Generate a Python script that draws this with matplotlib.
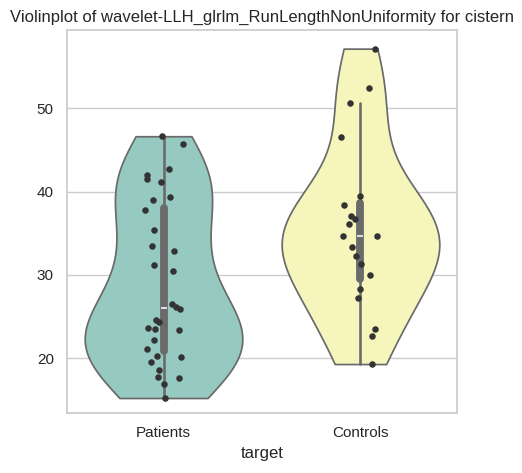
import numpy as np
import pandas as pd
import matplotlib
matplotlib.use("Agg")
import matplotlib.pyplot as plt
import seaborn as sns

categories = ["Patients", "Controls"]

patients_vals = [46.64, 45.76, 42.76, 41.96, 41.56, 41.2, 39.04, 39.36, 37.76, 35.36,
                 33.44, 32.8, 31.12, 30.4, 26.52, 26.16, 25.92, 24.56, 24.32, 23.56,
                 23.44, 23.36, 22.16, 21.04, 20.24, 20.08, 19.52, 18.56, 17.68, 17.6,
                 16.84, 15.2]
patients_jitter = [-0.007, 0.10, 0.027, -0.086, -0.086, -0.014, -0.055, 0.034, -0.093, -0.05,
                   -0.06, 0.053, -0.05, 0.048, 0.045, 0.065, 0.082, -0.038, -0.021, -0.081,
                   -0.043, 0.079, -0.05, -0.086, -0.034, 0.091, -0.065, -0.021, -0.026, 0.079,
                   0.004, 0.007]

controls_vals = [57.16, 52.48, 50.6, 46.6, 39.52, 38.36, 37.08, 36.76, 36.08, 34.6,
                 34.6, 33.28, 32.24, 31.24, 29.92, 28.28, 27.2, 23.48, 22.64, 19.28]
controls_jitter = [0.072, 0.041, -0.055, -0.098, 0.0, -0.083, -0.047, -0.029, -0.057, -0.088,
                   0.084, -0.041, -0.021, 0.005, 0.046, -0.005, -0.014, 0.072, 0.059, 0.057]

df = pd.DataFrame({
    "target": ["Patients"] * len(patients_vals) + ["Controls"] * len(controls_vals),
    "value": patients_vals + controls_vals,
})

sns.set_theme(style="whitegrid")
plt.rcParams["font.family"] = ["Liberation Sans", "DejaVu Sans"]

fig = plt.figure(figsize=(5.22, 4.73), dpi=100)
ax = fig.add_axes([67 / 522, 1 - 413 / 473, (457 - 67) / 522, (413 - 30) / 473])

sns.violinplot(data=df, x="target", y="value", hue="target", order=categories,
               hue_order=categories, palette="Set3", cut=0, inner="box",
               density_norm="width", legend=False, ax=ax)

for i, (vals, jit) in enumerate([(patients_vals, patients_jitter),
                                  (controls_vals, controls_jitter)]):
    ax.scatter(i + np.array(jit), vals, s=22, color="#333333", zorder=5, linewidths=0)

ax.set_ylim(13.4, 59.4)
ax.set_yticks([20, 30, 40, 50])
ax.set_xlabel("target")
ax.set_ylabel("")
ax.set_title("Violinplot of wavelet-LLH_glrlm_RunLengthNonUniformity for cistern")

fig.savefig("out.png", dpi=100)
